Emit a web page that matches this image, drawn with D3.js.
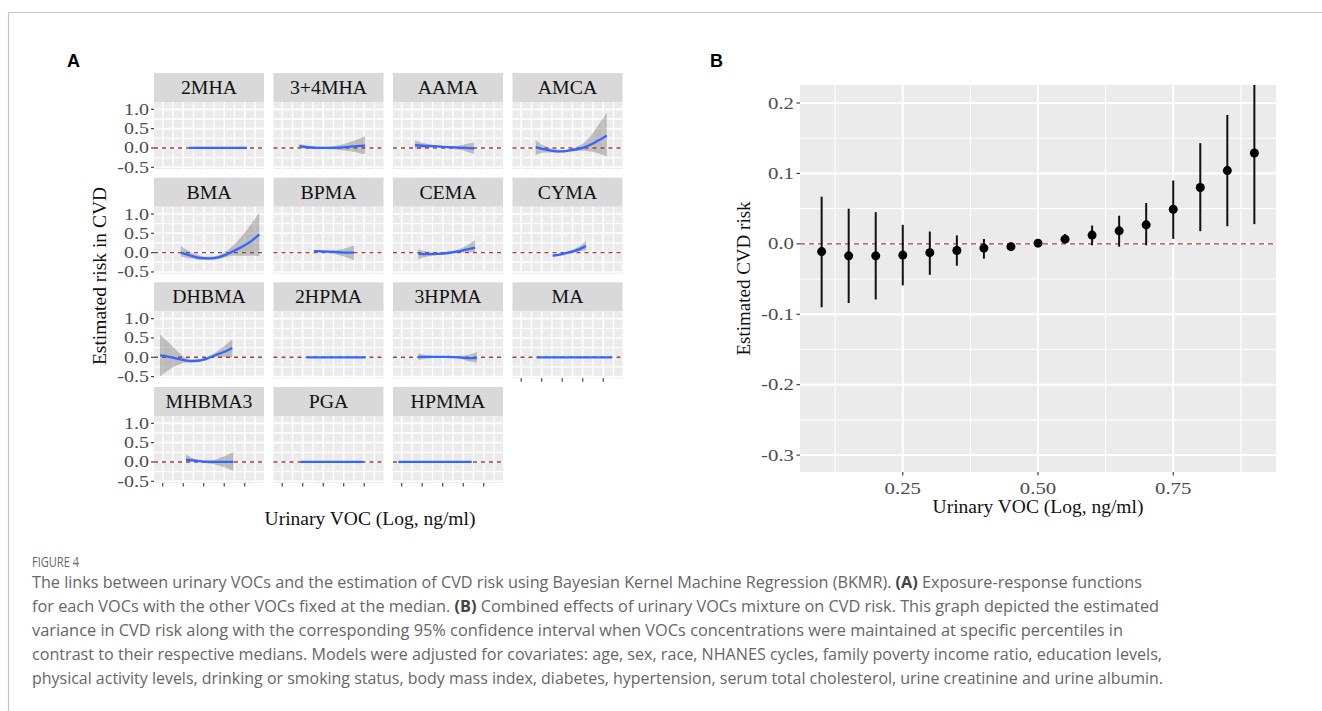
<!DOCTYPE html>
<html>
<head>
<meta charset="utf-8">
<script src="https://cdn.jsdelivr.net/npm/d3@7"></script>
<style>
  body { margin: 0; background: #fff; }
  svg { display: block; }
</style>
</head>
<body>
<svg id="chart" width="1322" height="711"></svg>
<script>
// ---- data: panel A, exposure-response per VOC  [x, estimate, lower, upper]
const vocNames = ["2MHA", "3+4MHA", "AAMA", "AMCA", "BMA", "BPMA", "CEMA", "CYMA",
  "DHBMA", "2HPMA", "3HPMA", "MA", "MHBMA3", "PGA", "HPMMA"];

const c2MHA = [[0.57, 0, -0.005, 0.005], [6.22, 0, -0.005, 0.005]];
const c34MHA = [[-0.33, 0.05, 0.0, 0.1], [0.5, 0.02, -0.02, 0.06], [1.5, 0.0, -0.03, 0.03],
  [2.5, 0.0, -0.03, 0.03], [3.5, 0.01, -0.05, 0.07], [4.5, 0.03, -0.08, 0.14],
  [5.3, 0.05, -0.12, 0.22], [6.08, 0.06, -0.17, 0.3]];
const cAAMA = [[-0.7, 0.07, -0.03, 0.19], [0.5, 0.05, 0.0, 0.1], [1.5, 0.04, 0.01, 0.07],
  [2.5, 0.02, -0.01, 0.05], [3.5, 0.01, -0.04, 0.06], [4.3, 0.0, -0.09, 0.1],
  [5.06, -0.01, -0.16, 0.14]];
const cAMCA = [[-0.59, 0.02, -0.18, 0.2], [0.3, -0.04, -0.12, 0.05], [1.2, -0.08, -0.12, -0.03],
  [1.8, -0.09, -0.12, -0.06], [2.6, -0.07, -0.1, -0.04], [3.3, -0.04, -0.08, 0.02],
  [4.06, 0.01, -0.07, 0.12], [4.8, 0.09, -0.09, 0.32], [5.5, 0.19, -0.14, 0.58],
  [6.34, 0.32, -0.22, 0.91]];
const cBMA = [[-0.24, 0.0, -0.1, 0.18], [0.5, -0.06, -0.14, 0.05], [1.3, -0.12, -0.18, -0.05],
  [2.0, -0.145, -0.19, -0.1], [2.6, -0.15, -0.19, -0.11], [3.3, -0.13, -0.17, -0.08],
  [4.0, -0.07, -0.13, 0.0], [4.6, 0.0, -0.09, 0.12], [5.3, 0.09, -0.08, 0.3],
  [6.0, 0.19, -0.08, 0.52], [6.7, 0.31, -0.08, 0.77], [7.42, 0.47, -0.09, 1.03]];
const cBPMA = [[1.1, 0.04, 0.02, 0.06], [2.0, 0.03, 0.01, 0.05], [3.0, 0.02, -0.02, 0.06],
  [4.0, 0.0, -0.1, 0.1], [5.0, 0.0, -0.2, 0.19]];
const cCEMA = [[-0.38, -0.03, -0.17, 0.09], [0.5, -0.04, -0.1, 0.03], [1.5, -0.03, -0.06, 0.0],
  [2.5, -0.01, -0.04, 0.02], [3.5, 0.03, -0.01, 0.08], [4.3, 0.08, 0.0, 0.18],
  [5.15, 0.13, 0.0, 0.32]];
const cCYMA = [[1.07, -0.08, -0.11, -0.05], [2.0, -0.04, -0.07, -0.01], [3.0, 0.03, -0.01, 0.07],
  [3.7, 0.09, 0.03, 0.17], [4.32, 0.17, 0.06, 0.3]];
const cDHBMA = [[-2.26, 0.05, -0.5, 0.59], [-1.5, 0.02, -0.34, 0.4], [-0.7, -0.03, -0.22, 0.19],
  [0.0, -0.07, -0.15, 0.03], [0.66, -0.1, -0.13, -0.05], [1.4, -0.09, -0.11, -0.06],
  [2.0, -0.06, -0.09, -0.03], [2.61, 0.0, -0.04, 0.04], [3.4, 0.08, 0.0, 0.17],
  [4.1, 0.15, 0.0, 0.31], [4.79, 0.24, -0.02, 0.47]];
const c2HPMA = [[0.39, 0, -0.005, 0.005], [6.15, 0, -0.005, 0.005]];
const c3HPMA = [[-0.38, 0.01, -0.07, 0.1], [0.5, 0.01, -0.03, 0.05], [1.5, 0.01, -0.01, 0.03],
  [2.5, 0.01, -0.01, 0.03], [3.5, 0.0, -0.02, 0.03], [4.3, -0.02, -0.09, 0.05],
  [5.32, -0.02, -0.14, 0.14]];
const cMA = [[-0.49, 0, -0.005, 0.005], [6.83, 0, -0.005, 0.005]];
const cMHBMA3 = [[0.27, 0.06, -0.03, 0.2], [1.0, 0.04, 0.0, 0.09], [2.0, 0.01, -0.02, 0.04],
  [3.0, 0.0, -0.06, 0.06], [4.0, 0.0, -0.14, 0.15], [4.89, 0.0, -0.23, 0.26]];
const cPGA = [[-0.2, 0, -0.005, 0.005], [5.91, 0, -0.005, 0.005]];
const cHPMMA = [[-2.33, 0, -0.005, 0.005], [4.83, 0, -0.005, 0.005]];

const vocCurves = [c2MHA, c34MHA, cAAMA, cAMCA, cBMA, cBPMA, cCEMA, cCYMA,
  cDHBMA, c2HPMA, c3HPMA, cMA, cMHBMA3, cPGA, cHPMMA];

const facetXTicks = [-2, 0, 2, 4, 6];
const facetXMinor = [-1, 1, 3, 5, 7];
const facetYTicks = [-0.5, 0, 0.5, 1.0];
const facetYMinor = [-0.25, 0.25, 0.75];
const facetYLabels = ["-0.5", "0.0", "0.5", "1.0"];

// ---- data: panel B, overall mixture effect
const quantiles = [0.10, 0.15, 0.20, 0.25, 0.30, 0.35, 0.40, 0.45, 0.50,
  0.55, 0.60, 0.65, 0.70, 0.75, 0.80, 0.85, 0.90];
const mixEst = [-0.011, -0.017, -0.017, -0.016, -0.0125, -0.0095, -0.006, -0.004, 0.001,
  0.0067, 0.0124, 0.0185, 0.027, 0.049, 0.080, 0.104, 0.129];
const mixLow = [-0.090, -0.084, -0.079, -0.059, -0.044, -0.031, -0.021, -0.010, -0.002,
  0.001, -0.002, -0.004, -0.002, 0.007, 0.018, 0.025, 0.028];
const mixHigh = [0.067, 0.050, 0.045, 0.027, 0.0175, 0.012, 0.007, 0.002, 0.004,
  0.014, 0.026, 0.040, 0.058, 0.090, 0.143, 0.183, 0.236];
const bXTicks = [0.25, 0.50, 0.75];
const bXMinor = [0.125, 0.375, 0.625, 0.875];
const bYTicks = [-0.3, -0.2, -0.1, 0.0, 0.1, 0.2];
const bYMinor = [-0.25, -0.15, -0.05, 0.05, 0.15];

const captionLines = [
  [["The links between urinary VOCs and the estimation of CVD risk using Bayesian Kernel Machine Regression (BKMR). ", false], ["(A)", true], [" Exposure-response functions", false]],
  [["for each VOCs with the other VOCs fixed at the median. ", false], ["(B)", true], [" Combined effects of urinary VOCs mixture on CVD risk. This graph depicted the estimated", false]],
  [["variance in CVD risk along with the corresponding 95% confidence interval when VOCs concentrations were maintained at specific percentiles in", false]],
  [["contrast to their respective medians. Models were adjusted for covariates: age, sex, race, NHANES cycles, family poverty income ratio, education levels,", false]],
  [["physical activity levels, drinking or smoking status, body mass index, diabetes, hypertension, serum total cholesterol, urine creatinine and urine albumin.", false]]
];
const captionWidths = [1110, 1127, 1091, 1130, 1131];

// ---- drawing
const SERIF = "'Liberation Serif', 'Times New Roman', serif";
const svg = d3.select("#chart");
const bgPanel = "#ebebeb", stripFill = "#d9d9d9", refRed = "#a0413f", smoothBlue = "#3366ff";

// figure frame
svg.append("line").attr("x1", 8).attr("x2", 1322).attr("y1", 12.5).attr("y2", 12.5)
  .attr("stroke", "#c4c4c4").attr("stroke-width", 1.2);
svg.append("line").attr("x1", 8.5).attr("x2", 8.5).attr("y1", 12).attr("y2", 711)
  .attr("stroke", "#c4c4c4").attr("stroke-width", 1.2);

svg.append("text").attr("x", 67).attr("y", 67).text("A")
  .attr("font-family", "Arial, 'Liberation Sans', sans-serif").attr("font-weight", "bold").attr("font-size", 18);
svg.append("text").attr("x", 710).attr("y", 67).text("B")
  .attr("font-family", "Arial, 'Liberation Sans', sans-serif").attr("font-weight", "bold").attr("font-size", 18);

// stretched label helper (the tick text in the figure is horizontally widened)
function wideText(g, x, y, str, anchor, size, sx, fill) {
  return g.append("text")
    .attr("transform", `translate(${x},${y}) scale(${sx},1)`)
    .attr("text-anchor", anchor)
    .attr("font-family", SERIF)
    .attr("font-size", size)
    .attr("fill", fill)
    .text(str);
}

// ---------- Panel A: facets
const nCols = 4;
const colLeft = d3.scaleLinear().domain([0, 3]).range([154, 512.5]);
const rowTop = d3.scaleLinear().domain([0, 3]).range([73, 387]);
const panelW = 110, stripH = 29, panelH = 67;

const fx = d3.scaleLinear().domain([-2.85, 7.88]).range([0, panelW]);
const fy = d3.scaleLinear().domain([-0.545, 1.19]).range([panelH, 0]);

const area = d3.area().x(d => fx(d[0])).y0(d => fy(d[2])).y1(d => fy(d[3])).curve(d3.curveMonotoneX);
const line = d3.line().x(d => fx(d[0])).y(d => fy(d[1])).curve(d3.curveMonotoneX);

const facetG = svg.append("g");
vocNames.forEach((name, i) => {
  const col = i % nCols, row = Math.floor(i / nCols);
  const g = facetG.append("g")
    .attr("transform", `translate(${colLeft(col)},${rowTop(row)})`);

  g.append("rect").attr("width", panelW).attr("height", stripH).attr("fill", stripFill);
  wideText(g, panelW / 2, 21, name, "middle", 18, 1.1, "#111");

  const p = g.append("g").attr("transform", `translate(0,${stripH})`);
  p.append("rect").attr("width", panelW).attr("height", panelH).attr("fill", bgPanel);

  p.selectAll("line.vminor").data(facetXMinor).join("line")
    .attr("x1", d => fx(d)).attr("x2", d => fx(d)).attr("y1", 0).attr("y2", panelH)
    .attr("stroke", "#fff").attr("stroke-width", 1.3);
  p.selectAll("line.vmajor").data(facetXTicks).join("line")
    .attr("x1", d => fx(d)).attr("x2", d => fx(d)).attr("y1", 0).attr("y2", panelH)
    .attr("stroke", "#fff").attr("stroke-width", 1.6);
  p.selectAll("line.hminor").data(facetYMinor).join("line")
    .attr("x1", 0).attr("x2", panelW).attr("y1", d => fy(d)).attr("y2", d => fy(d))
    .attr("stroke", "#fff").attr("stroke-width", 1.3);
  p.selectAll("line.hmajor").data(facetYTicks).join("line")
    .attr("x1", 0).attr("x2", panelW).attr("y1", d => fy(d)).attr("y2", d => fy(d))
    .attr("stroke", "#fff").attr("stroke-width", 1.6);

  const data = vocCurves[i];
  p.append("path").attr("d", area(data)).attr("fill", "#808080").attr("fill-opacity", 0.45);
  p.append("line").attr("x1", 0).attr("x2", panelW).attr("y1", fy(0)).attr("y2", fy(0))
    .attr("stroke", refRed).attr("stroke-width", 1.4).attr("stroke-dasharray", "4,4");
  p.append("path").attr("d", line(data)).attr("fill", "none")
    .attr("stroke", smoothBlue).attr("stroke-width", 2.3);

  // y axis on the first column
  if (col === 0) {
    facetYTicks.forEach((t, k) => {
      p.append("line").attr("x1", -3).attr("x2", 0).attr("y1", fy(t)).attr("y2", fy(t))
        .attr("stroke", "#333").attr("stroke-width", 1.1);
      wideText(p, -5, fy(t) + 5.5, facetYLabels[k], "end", 16, 1.25, "#4d4d4d");
    });
  }
  // x ticks on bottom panel of each column
  const lastInCol = i + nCols >= vocNames.length;
  if (lastInCol) {
    p.selectAll("line.xt").data(facetXTicks).join("line")
      .attr("x1", d => fx(d)).attr("x2", d => fx(d)).attr("y1", panelH).attr("y2", panelH + 3.5)
      .attr("stroke", "#333").attr("stroke-width", 1.1);
  }
});

svg.append("text")
  .attr("transform", "translate(106,276) rotate(-90)")
  .attr("text-anchor", "middle").attr("font-family", SERIF).attr("font-size", 19.5)
  .attr("fill", "#111").text("Estimated risk in CVD");
svg.append("text")
  .attr("x", 370).attr("y", 525)
  .attr("text-anchor", "middle").attr("font-family", SERIF).attr("font-size", 19.5)
  .attr("fill", "#111").text("Urinary VOC (Log, ng/ml)");

// ---------- Panel B
const bL = 800, bR = 1276, bT = 85, bB = 472;
const bx = d3.scaleLinear().domain([0.06, 0.94]).range([bL, bR]);
const by = d3.scaleLinear().domain([-0.324, 0.2256]).range([bB, bT]);

const gB = svg.append("g");
gB.append("rect").attr("x", bL).attr("y", bT).attr("width", bR - bL).attr("height", bB - bT).attr("fill", bgPanel);
svg.append("clipPath").attr("id", "bclip").append("rect")
  .attr("x", bL).attr("y", bT).attr("width", bR - bL).attr("height", bB - bT);

gB.selectAll("line.bxm").data(bXMinor).join("line")
  .attr("x1", d => bx(d)).attr("x2", d => bx(d)).attr("y1", bT).attr("y2", bB)
  .attr("stroke", "#fff").attr("stroke-width", 1.1);
gB.selectAll("line.bym").data(bYMinor).join("line")
  .attr("x1", bL).attr("x2", bR).attr("y1", d => by(d)).attr("y2", d => by(d))
  .attr("stroke", "#fff").attr("stroke-width", 1.1);
gB.selectAll("line.bxM").data(bXTicks).join("line")
  .attr("x1", d => bx(d)).attr("x2", d => bx(d)).attr("y1", bT).attr("y2", bB)
  .attr("stroke", "#fff").attr("stroke-width", 2);
gB.selectAll("line.byM").data(bYTicks).join("line")
  .attr("x1", bL).attr("x2", bR).attr("y1", d => by(d)).attr("y2", d => by(d))
  .attr("stroke", "#fff").attr("stroke-width", 2);

gB.append("line").attr("x1", bL).attr("x2", bR).attr("y1", by(0)).attr("y2", by(0))
  .attr("stroke", refRed).attr("stroke-width", 1.4).attr("stroke-dasharray", "5,4");

const marks = gB.append("g").attr("clip-path", "url(#bclip)");
marks.selectAll("line.err").data(quantiles).join("line")
  .attr("x1", d => bx(d)).attr("x2", d => bx(d))
  .attr("y1", (d, i) => by(mixLow[i])).attr("y2", (d, i) => by(mixHigh[i]))
  .attr("stroke", "#111").attr("stroke-width", 2);
marks.selectAll("circle.pt").data(quantiles).join("circle")
  .attr("cx", d => bx(d)).attr("cy", (d, i) => by(mixEst[i])).attr("r", 4.5)
  .attr("fill", "#000");

// axes ticks and labels
bYTicks.forEach(t => {
  gB.append("line").attr("x1", bL - 3.5).attr("x2", bL).attr("y1", by(t)).attr("y2", by(t))
    .attr("stroke", "#333").attr("stroke-width", 1.1);
  wideText(gB, bL - 6, by(t) + 5.5, d3.format(".1f")(t).replace("−", "-"), "end", 16, 1.3, "#4d4d4d");
});
bXTicks.forEach(t => {
  gB.append("line").attr("x1", bx(t)).attr("x2", bx(t)).attr("y1", bB).attr("y2", bB + 3.5)
    .attr("stroke", "#333").attr("stroke-width", 1.1);
  wideText(gB, bx(t), bB + 22, d3.format(".2f")(t), "middle", 16, 1.3, "#4d4d4d");
});

svg.append("text")
  .attr("transform", `translate(750,${(bT + bB) / 2}) rotate(-90)`)
  .attr("text-anchor", "middle").attr("font-family", SERIF).attr("font-size", 19)
  .attr("fill", "#111").text("Estimated CVD risk");
svg.append("text")
  .attr("x", (bL + bR) / 2).attr("y", 513)
  .attr("text-anchor", "middle").attr("font-family", SERIF).attr("font-size", 19.5)
  .attr("fill", "#111").text("Urinary VOC (Log, ng/ml)");

// ---------- caption
const CAP = "'Open Sans', 'Noto Sans', sans-serif";
svg.append("text").attr("x", 32).attr("y", 567)
  .attr("font-family", CAP).attr("font-size", 14).attr("fill", "#666")
  .attr("textLength", 47).attr("lengthAdjust", "spacingAndGlyphs")
  .text("FIGURE 4");

captionLines.forEach((parts, k) => {
  const t = svg.append("text").attr("x", 32).attr("y", 588 + k * 24)
    .attr("font-family", CAP).attr("font-size", 16)
    .attr("fill", "#666")
    .attr("textLength", captionWidths[k]).attr("lengthAdjust", "spacingAndGlyphs");
  parts.forEach(([s, bold]) => {
    t.append("tspan").text(s)
      .attr("font-weight", bold ? 700 : 400)
      .attr("fill", bold ? "#444" : "#666");
  });
});
</script>
</body>
</html>
